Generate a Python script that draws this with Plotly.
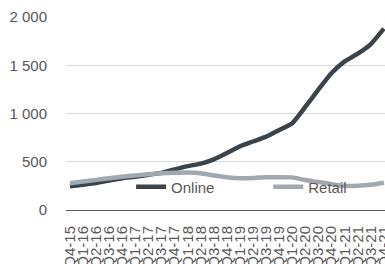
import plotly.graph_objects as go

quarters = ["Q4-15",
            "Q1-16", "Q2-16", "Q3-16", "Q4-16",
            "Q1-17", "Q2-17", "Q3-17", "Q4-17",
            "Q1-18", "Q2-18", "Q3-18", "Q4-18",
            "Q1-19", "Q2-19", "Q3-19", "Q4-19",
            "Q1-20", "Q2-20", "Q3-20", "Q4-20",
            "Q1-21", "Q2-21", "Q3-21", "Q4-21"]
online = [245, 262, 280, 305, 330, 345, 365, 385, 420, 455, 480, 525, 590,
          660, 710, 760, 830, 900, 1070, 1250, 1420, 1540, 1620, 1720, 1880]
retail = [278, 295, 312, 330, 345, 358, 370, 380, 385, 388, 380, 358, 340,
          330, 332, 340, 340, 338, 310, 290, 268, 250, 252, 262, 283]
y_ticks = [0, 500, 1000, 1500, 2000]
y_tick_text = ["0", "500", "1 000", "1 500", "2 000"]

FONT = "Liberation Sans, Arial, sans-serif"
GREY = "#595959"

fig = go.Figure()
fig.add_trace(go.Scatter(x=quarters, y=online, name="Online", mode="lines",
                         legend="legend",
                         line=dict(color="#3b434b", width=4.5, shape="spline", smoothing=0.5)))
fig.add_trace(go.Scatter(x=quarters, y=retail, name="Retail", mode="lines",
                         legend="legend2",
                         line=dict(color="#a1a8af", width=4.5, shape="spline", smoothing=0.5)))

legend_common = dict(orientation="h", yanchor="middle", xanchor="left", y=0.119,
                     bgcolor="rgba(0,0,0,0)", font=dict(size=15, color=GREY),
                     itemwidth=30)
fig.update_layout(
    width=385, height=264,
    margin=dict(l=66, r=0, t=17, b=54, autoexpand=False),
    plot_bgcolor="white", paper_bgcolor="white",
    font=dict(family=FONT, size=15, color=GREY),
    showlegend=True,
    legend=dict(x=0.204, **legend_common),
    legend2=dict(x=0.634, **legend_common),
)
fig.update_xaxes(type="category", range=[-0.3, 24.08], tickangle=-90,
                 tickmode="array", tickvals=quarters, ticktext=quarters,
                 showgrid=False, showline=True, linecolor="#595959", linewidth=1,
                 ticks="", tickfont=dict(size=15, color=GREY), ticklabelstandoff=9,
                 automargin=False)
fig.update_yaxes(range=[0, 2000], tickvals=y_ticks, ticktext=y_tick_text,
                 showgrid=True, gridcolor="#d9d9d9", gridwidth=1,
                 zeroline=False, showline=False, ticks="",
                 tickfont=dict(size=15, color=GREY), ticklabelstandoff=18,
                 automargin=False)

fig.write_html("out.html", config={"displayModeBar": False},
               post_script="document.body.style.margin='0';document.body.style.overflow='hidden';")
